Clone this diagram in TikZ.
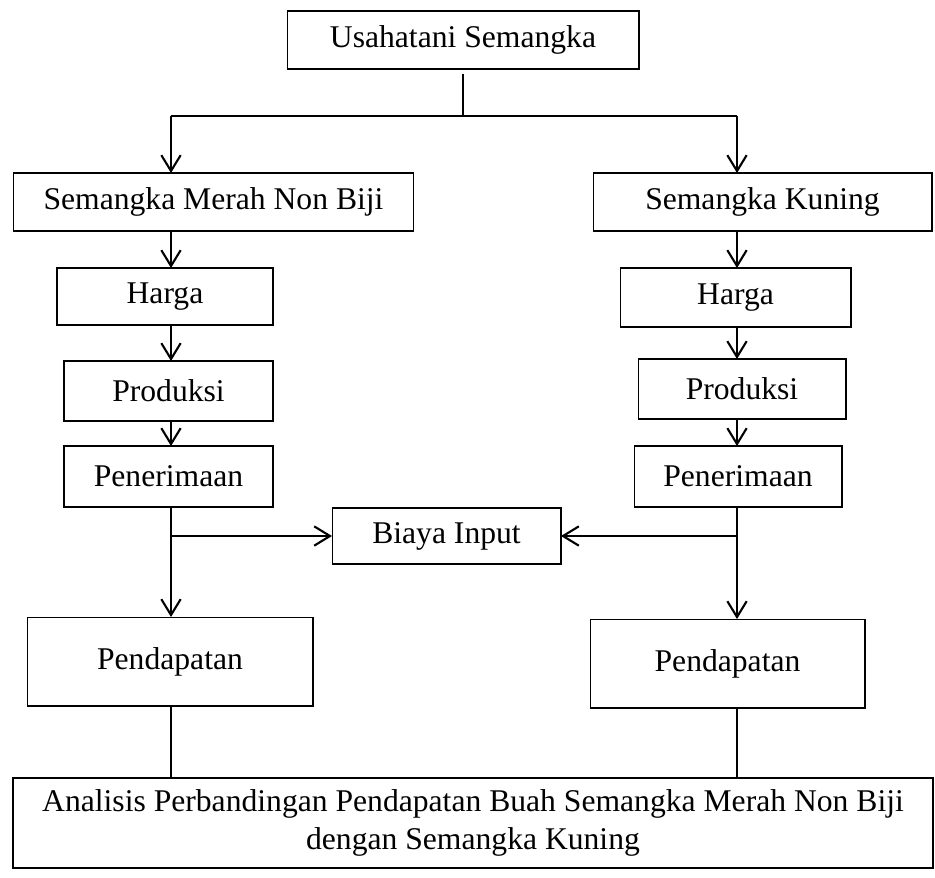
\documentclass[tikz,border=0pt]{standalone}
\usepackage{fontspec}
\setmainfont{Liberation Serif}
\usepackage{tikz}
\usetikzlibrary{arrows.meta, calc, positioning}

\tikzset{
    kotak/.style={draw, line width=0.6pt, inner sep=0pt, outer sep=0pt, align=center,
        font=\fontsize{18}{22}\selectfont},
    panah/.style={->, line width=1.2pt},
    garis/.style={line width=1.2pt}
}

\begin{document}
\begin{tikzpicture}[>={Straight Barb[length=9pt, width=11pt]}, x=0.02cm, y=-0.02cm]
    \useasboundingbox (0,0) rectangle (935,877);
    % Kotak-kotak
    \node[kotak, minimum width=7.04cm, minimum height=1.16cm] (atas) at (463,40) {Usahatani Semangka};
    \node[kotak, minimum width=8.02cm, minimum height=1.16cm] (merah) at (213.5,202) {Semangka Merah Non Biji};
    \node[kotak, minimum width=6.78cm, minimum height=1.16cm] (kuning) at (762.5,202) {Semangka Kuning};
    \node[kotak, minimum width=4.32cm, minimum height=1.14cm] (hargaL) at (165,296.5) {Harga};
    \node[kotak, minimum width=4.62cm, minimum height=1.18cm] (hargaR) at (735.5,297.5) {Harga};
    \node[kotak, minimum width=4.18cm, minimum height=1.2cm] (prodL) at (168.5,391) {Produksi};
    \node[kotak, minimum width=4.16cm, minimum height=1.2cm] (prodR) at (742,389) {Produksi};
    \node[kotak, minimum width=4.18cm, minimum height=1.22cm] (terimaL) at (168.5,476.5) {Penerimaan};
    \node[kotak, minimum width=4.16cm, minimum height=1.22cm] (terimaR) at (738,476.5) {Penerimaan};
    \node[kotak, minimum width=4.58cm, minimum height=1.12cm] (biaya) at (446.5,536) {Biaya Input};
    \node[kotak, minimum width=5.72cm, minimum height=1.78cm] (dapatL) at (170,661.5) {Pendapatan};
    \node[kotak, minimum width=5.5cm, minimum height=1.78cm] (dapatR) at (727.5,663.5) {Pendapatan};
    \node[kotak, line width=1.2pt, minimum width=18.4cm, minimum height=1.8cm] (bawah) at (473,823)
        {Analisis Perbandingan Pendapatan Buah Semangka Merah Non Biji\\dengan Semangka Kuning};

    % Cabang
    \coordinate (cabang) at (463,116);
    \coordinate (kl) at (171,116);
    \coordinate (kr) at (737,116);
    \draw[line width=0.6pt] ([yshift=-3pt]atas.south) -- (cabang);
    \draw[garis] (kl) -- (kr);
    \draw[panah] (kl) -- (kl |- merah.north);
    \draw[panah] (kr) -- (kr |- kuning.north);

    % Kiri
    \draw[panah] (kl |- merah.south) -- (kl |- hargaL.north);
    \draw[panah] (kl |- hargaL.south) -- (kl |- prodL.north);
    \draw[panah] (kl |- prodL.south) -- (kl |- terimaL.north);
    \draw[panah] (kl |- terimaL.south) -- (kl |- dapatL.north);
    \draw[panah] (kl |- biaya.west) -- (biaya.west);
    \draw[garis] (kl |- dapatL.south) -- (kl |- bawah.north);

    % Kanan
    \draw[panah] (kr |- kuning.south) -- (kr |- hargaR.north);
    \draw[panah] (kr |- hargaR.south) -- (kr |- prodR.north);
    \draw[panah] (kr |- prodR.south) -- (kr |- terimaR.north);
    \draw[panah] (kr |- terimaR.south) -- (kr |- dapatR.north);
    \draw[panah] (kr |- biaya.east) -- (biaya.east);
    \draw[garis] (kr |- dapatR.south) -- (kr |- bawah.north);
\end{tikzpicture}
\end{document}
